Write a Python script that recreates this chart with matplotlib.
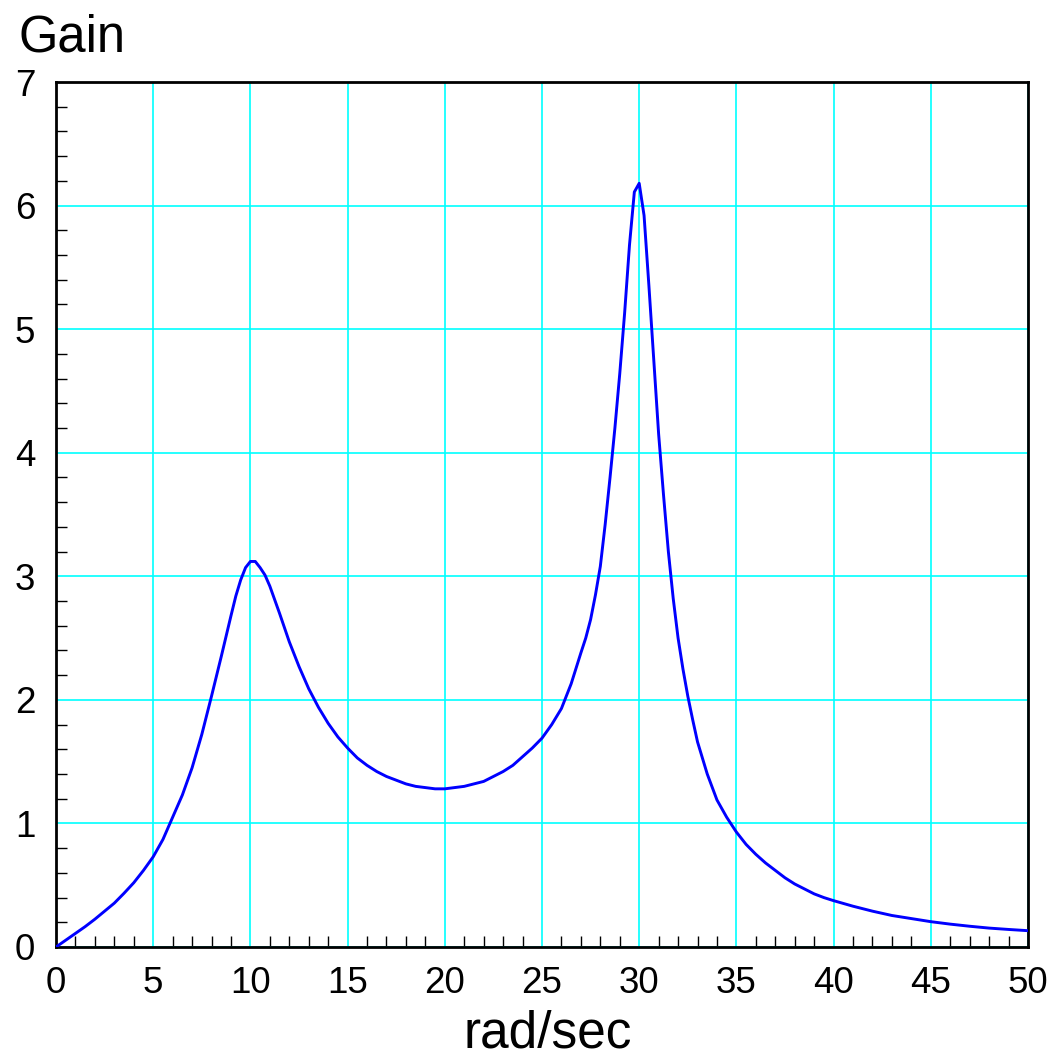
import matplotlib
matplotlib.use('Agg')
import matplotlib.pyplot as plt
from matplotlib.ticker import MultipleLocator

plt.rcParams['font.family'] = ['Liberation Sans', 'DejaVu Sans']

# gain curve
omega = [0, 0.5, 1, 1.5, 2, 2.5, 3, 3.5, 4, 4.5, 5, 5.5, 6, 6.5, 7, 7.5, 8,
	8.5, 9, 9.25, 9.5, 9.75, 10, 10.25, 10.5, 10.75, 11, 11.5, 12, 12.5, 13,
	13.5, 14, 14.5, 15, 15.5, 16, 16.5, 17, 17.5, 18, 18.5, 19, 19.5, 20,
	20.5, 21, 21.5, 22, 22.5, 23, 23.5, 24, 24.5, 25, 25.5, 26, 26.5, 27,
	27.25, 27.5, 27.75, 28, 28.25, 28.5, 28.75, 29, 29.25, 29.5, 29.75, 30,
	30.25, 30.5, 30.75, 31, 31.25, 31.5, 31.75, 32, 32.25, 32.5, 32.75, 33,
	33.5, 34, 34.5, 35, 35.5, 36, 36.5, 37, 37.5, 38, 38.5, 39, 39.5, 40, 41,
	42, 43, 44, 45, 46, 47, 48, 49, 50]
gain = [0, 0.055, 0.11, 0.165, 0.225, 0.29, 0.355, 0.435, 0.52, 0.62, 0.73,
	0.87, 1.05, 1.23, 1.45, 1.72, 2.03, 2.35, 2.68, 2.84, 2.97, 3.07, 3.12,
	3.12, 3.07, 3.01, 2.92, 2.70, 2.47, 2.27, 2.09, 1.94, 1.81, 1.70, 1.61,
	1.53, 1.47, 1.42, 1.38, 1.35, 1.32, 1.30, 1.29, 1.28, 1.28, 1.29, 1.30,
	1.32, 1.34, 1.38, 1.42, 1.47, 1.54, 1.61, 1.69, 1.80, 1.93, 2.13, 2.38,
	2.50, 2.65, 2.85, 3.08, 3.42, 3.80, 4.20, 4.64, 5.13, 5.68, 6.11, 6.18,
	5.92, 5.35, 4.75, 4.15, 3.66, 3.20, 2.82, 2.50, 2.25, 2.03, 1.84, 1.66,
	1.40, 1.19, 1.05, 0.93, 0.83, 0.75, 0.68, 0.62, 0.56, 0.51, 0.47, 0.43,
	0.40, 0.375, 0.33, 0.29, 0.255, 0.23, 0.205, 0.185, 0.168, 0.153, 0.142,
	0.132]

xticks = list(range(0, 51, 5))
yticks = list(range(0, 8))

W, H = 1057, 1056
fig = plt.figure(figsize=(W / 100, H / 100), dpi=100)
ax = fig.add_axes([56 / W, 1 - 947 / H, (1028 - 56) / W, (947 - 82) / H])

ax.plot(omega, gain, c='#0000FF', lw=2.1, zorder=3)

ax.set_xlim(0, 50)
ax.set_ylim(0, 7)
ax.set_xticks(xticks)
ax.set_yticks(yticks)
ax.xaxis.set_minor_locator(MultipleLocator(1))
ax.yaxis.set_minor_locator(MultipleLocator(0.2))
ax.grid(True, which='major', color='#00FFFF', lw=1.2, zorder=1)
ax.set_axisbelow(True)

ax.tick_params(which='major', direction='in', length=0, labelsize=26.5, pad=14,
	top=False, right=False)
ax.tick_params(axis='y', which='major', pad=15)
ax.tick_params(which='minor', direction='in', length=8, width=1.0, color='black',
	top=False, right=False)
for s in ax.spines.values():
	s.set_linewidth(2.0)

fig.text(18 / W, 1 - 52 / H, 'Gain', fontsize=36.5, ha='left', va='baseline')
fig.text(548 / W, 1 - 1047 / H, 'rad/sec', fontsize=37, ha='center', va='baseline')

fig.savefig('out.png', dpi=100)
